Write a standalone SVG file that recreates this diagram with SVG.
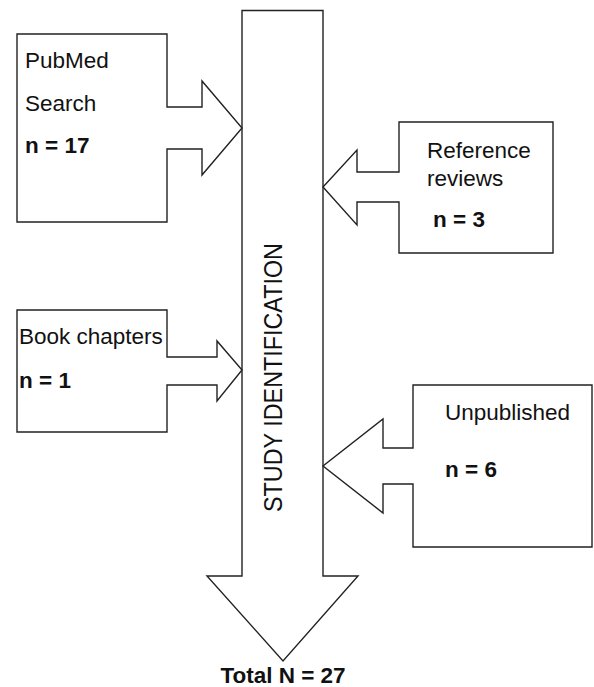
<svg xmlns="http://www.w3.org/2000/svg" width="594" height="687" viewBox="0 0 594 687">
<style>
.s{fill:#fff;stroke:#222;stroke-width:1.4;stroke-linejoin:miter}
.t{font-family:"Liberation Sans",Arial,sans-serif;font-size:22.5px;fill:#111}
.b{font-weight:bold}
</style>
<rect width="594" height="687" fill="#fff"/>
<g id="connectors">
<path id="main-arrow" class="s" d="M242,10.5 H323 V576 H358 L283,661 L207,576 H242 Z"/>
</g>
<g id="pubmed">
<path class="s" d="M17,34 H167 V107 H202 V81 L242,128 L202,175 V149 H167 V222 H17 Z"/>
<text class="t" x="25" y="68">PubMed</text>
<text class="t" x="25" y="111">Search</text>
<text class="t b" x="25" y="153">n = 17</text>
</g>
<g id="reviews">
<path class="s" d="M399,122 H553 V253 H399 V202 H357 V225 L323,187 L357,150 V172 H399 Z"/>
<text class="t" x="427" y="158">Reference</text>
<text class="t" x="427" y="186">reviews</text>
<text class="t b" x="433" y="227">n = 3</text>
</g>
<g id="books">
<path class="s" d="M17,310 H167 V357 H217 V341 L242,370 L217,401 V385 H167 V432 H17 Z"/>
<text class="t" x="19" y="344">Book chapters</text>
<text class="t b" x="19" y="388">n = 1</text>
</g>
<g id="unpublished">
<path class="s" d="M413,385 H592 V547 H413 V484 H383 V513 L323,466 L383,419 V448 H413 Z"/>
<text class="t" x="445" y="420">Unpublished</text>
<text class="t b" x="445" y="477">n = 6</text>
</g>
<g id="study">
<text class="t" style="font-size:25.5px" transform="translate(282,512) rotate(-90)" textLength="269" lengthAdjust="spacingAndGlyphs">STUDY IDENTIFICATION</text>
</g>
<g id="total">
<text class="t b" x="283" y="683" text-anchor="middle">Total N = 27</text>
</g>
</svg>
